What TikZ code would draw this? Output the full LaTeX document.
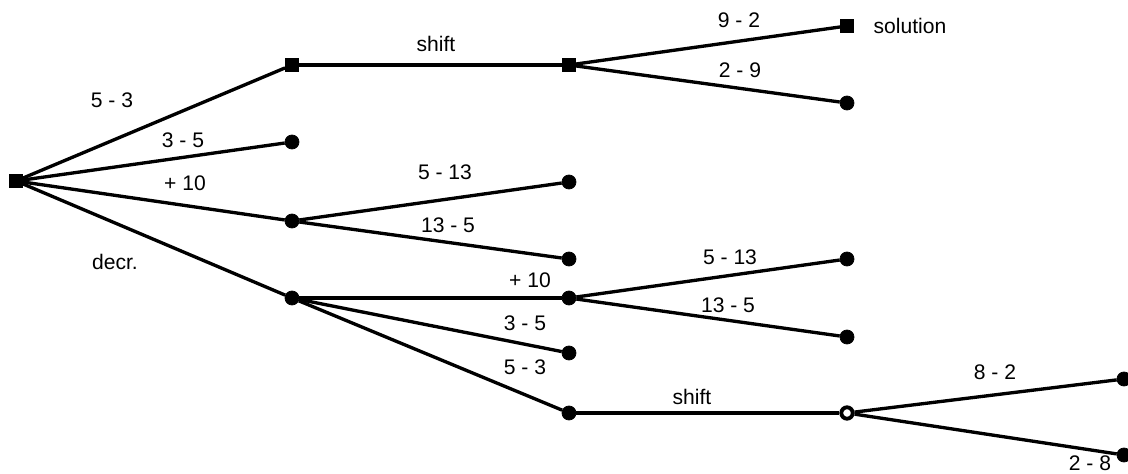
\documentclass[tikz,border=0pt]{standalone}
\usepackage{fontspec}
\setmainfont{Liberation Sans}
\usepackage{tikz}
\usetikzlibrary{shapes,arrows,positioning}
\tikzstyle{state} = [circle, draw=black, fill=black, inner sep=0pt, minimum size = 8pt]
\tikzstyle{goal} = [rectangle, draw=black, fill=black, inner sep=0pt, minimum size = 7.5pt]
\tikzstyle{open} = [circle, draw=black, line width=2.2pt, fill=white, inner sep=0pt, minimum size = 6.5pt]
\tikzstyle{textonly} = [draw=none, fill=none, text centered, font=\fontsize{12}{14}\selectfont, inner sep=1pt]
\tikzstyle{branch} = [line width=1.9pt, black]

\begin{document}
\begin{tikzpicture}[x=0.02cm, y=-0.02cm]
\useasboundingbox (0,0) rectangle (1128,473);

% states =============================

% first level
\node[goal] (s0) at (16,181) {};
\node[goal] (s1) at (292,65) {};
\node[state] (s2) at (292,142) {};
\node[state] (s3) at (292,221) {};
\node[state] (s4) at (292,298) {};

% second level
\node[goal] (s5) at (569,65) {};
\node[state] (s6) at (569,182) {};
\node[state] (s7) at (569,259) {};
\node[state] (s8) at (569,298) {};
\node[state] (s9) at (569,353) {};
\node[state] (s10) at (569,413) {};

% third level
\node[goal] (s11) at (847,26) {};
\node[state] (s12) at (847,103) {};
\node[state] (s13) at (847,259) {};
\node[state] (s14) at (847,337) {};
\node[open] (s15) at (847,413) {};

% fourth level
\node[state] (s16) at (1124,379) {};
\node[state] (s17) at (1124,455) {};

% edges ==============================
\draw[branch] (s0) -- (s1);
\draw[branch] (s0) -- (s2);
\draw[branch] (s0) -- (s3);
\draw[branch] (s0) -- (s4);
\draw[branch] (s1) -- (s5);
\draw[branch] (s5) -- (s11);
\draw[branch] (s5) -- (s12);
\draw[branch] (s3) -- (s6);
\draw[branch] (s3) -- (s7);
\draw[branch] (s4) -- (s8);
\draw[branch] (s4) -- (s9);
\draw[branch] (s4) -- (s10);
\draw[branch] (s8) -- (s13);
\draw[branch] (s8) -- (s14);
\draw[branch] (s10) -- (s15);
\draw[branch] (s15) -- (s16);
\draw[branch] (s15) -- (s17);

% labels =============================
\node[textonly] (l1) at (112,100) {5 - 3};
\node[textonly] (l2) at (183,140) {3 - 5};
\node[textonly] (l3) at (185,183) {+ 10};
\node[textonly] (l4) at (115,262) {decr.};
\node[textonly] (l5) at (436,44) {shift};
\node[textonly] (l6) at (739,20) {9 - 2};
\node[textonly] (l7) at (740,70) {2 - 9};
\node[textonly, right=10pt of s11] (sol) {solution};
\node[textonly] (l8) at (445,172) {5 - 13};
\node[textonly] (l9) at (448,225) {13 - 5};
\node[textonly] (l10) at (530,280) {+ 10};
\node[textonly] (l11) at (525,323) {3 - 5};
\node[textonly] (l12) at (525,367) {5 - 3};
\node[textonly] (l13) at (730,257) {5 - 13};
\node[textonly] (l14) at (728,305) {13 - 5};
\node[textonly] (l15) at (692,397) {shift};
\node[textonly] (l16) at (995,372) {8 - 2};
\node[textonly] (l17) at (1090,463) {2 - 8};

\end{tikzpicture}
\end{document}
